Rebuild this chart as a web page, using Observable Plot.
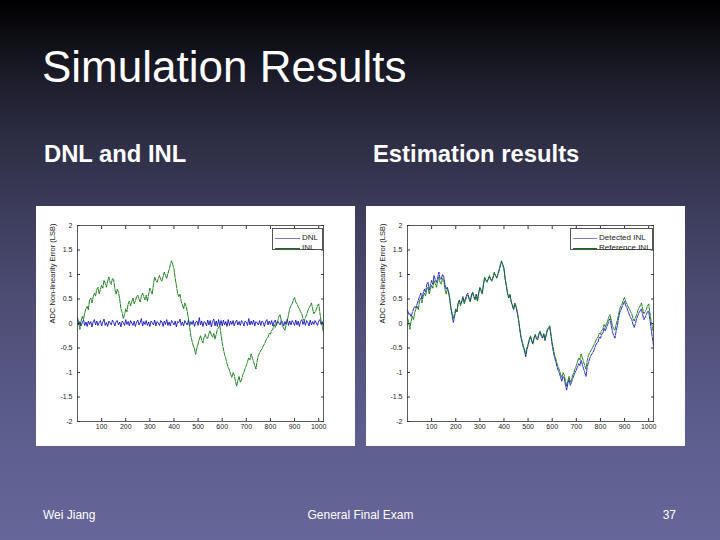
<!DOCTYPE html>
<html><head><meta charset="utf-8">
<script src="https://cdn.jsdelivr.net/npm/d3@7"></script>
<script src="https://cdn.jsdelivr.net/npm/@observablehq/plot@0.6"></script>
<style>
html,body{margin:0;padding:0}
body{width:720px;height:540px;overflow:hidden;position:relative;font-family:"Liberation Sans",Arial,sans-serif;
background:linear-gradient(to bottom,#000 0%,#181824 12%,#2c2c42 25%,#3a3a58 37%,#4c4c74 55%,#5c5c8c 78%,#66669a 100%);}
.t{position:absolute;color:#fff;white-space:nowrap;line-height:1}
.box{position:absolute;background:#fff;width:319px;height:240px;top:206px}
.box svg{display:block}
.leg{position:absolute;top:228px;height:22px;box-sizing:border-box;background:#fff;border:0.8px solid #555;font-size:8px;color:#222;line-height:1}
.row{position:absolute;left:2px;display:flex;align-items:center;white-space:nowrap}
.ln{display:inline-block;height:1px;margin-right:2px}
</style></head>
<body>
<div class="t" style="left:42px;top:45px;font-size:44px">Simulation Results</div>
<div class="t" style="left:44px;top:142.3px;font-size:23.8px;font-weight:bold">DNL and INL</div>
<div class="t" style="left:373px;top:142.3px;font-size:23.8px;font-weight:bold">Estimation results</div>
<div class="box" id="c1" style="left:36px"></div>
<div class="box" id="c2" style="left:366px"></div>
<div class="leg" style="left:272px;width:51px">
  <div class="row" style="top:5px"><span class="ln" style="width:25px;background:#7a7ac8"></span>DNL</div>
  <div class="row" style="top:15px"><span class="ln" style="width:25px;background:#1a6e1a"></span>INL</div>
</div>
<div class="leg" style="left:570px;width:83px">
  <div class="row" style="top:5px"><span class="ln" style="width:24px;background:#7a7ac8"></span>Detected INL</div>
  <div class="row" style="top:15px"><span class="ln" style="width:24px;background:#1a6e1a"></span>Reference INL</div>
</div>
<div class="t" style="left:43px;top:509px;font-size:12px">Wei Jiang</div>
<div class="t" style="left:307.5px;top:509px;font-size:12px">General Final Exam</div>
<div class="t" style="right:44px;top:509px;font-size:12px">37</div>
<script>
const codes = [0,5,10,15,20,25,30,35,40,45,50,55,60,65,70,75,80,85,90,95,
100,105,110,115,120,125,130,135,140,145,150,155,160,165,170,175,180,185,190,195,
200,205,210,215,220,225,230,235,240,245,250,255,260,265,270,275,280,285,290,295,
300,305,310,315,320,325,330,335,340,345,350,355,360,365,370,375,380,385,390,395,
400,405,410,415,420,425,430,435,440,445,450,455,460,465,470,475,480,485,490,495,
500,505,510,515,520,525,530,535,540,545,550,555,560,565,570,575,580,585,590,595,
600,605,610,615,620,625,630,635,640,645,650,655,660,665,670,675,680,685,690,695,
700,705,710,715,720,725,730,735,740,745,750,755,760,765,770,775,780,785,790,795,
800,805,810,815,820,825,830,835,840,845,850,855,860,865,870,875,880,885,890,895,
900,905,910,915,920,925,930,935,940,945,950,955,960,965,970,975,980,985,990,995,
1000,1005,1010,1015,1020];

const dnl = [0.06,-0.03,0.04,-0.05,0.02,0.07,-0.04,0.03,-0.06,0.05,
-0.02,0.04,-0.07,0.03,0.08,-0.03,0.05,-0.04,0.02,0.06,
-0.05,0.03,0.09,-0.04,0.02,-0.06,0.05,0.01,-0.03,0.07,
0.02,-0.05,0.04,0.06,-0.03,0.03,-0.07,0.05,0.02,-0.04,
0.08,-0.02,0.04,-0.05,0.06,0.01,-0.04,0.05,-0.06,0.03,
0.07,-0.03,0.02,0.10,-0.05,0.04,-0.02,0.06,-0.04,0.03,
-0.06,0.05,0.02,-0.03,0.07,-0.05,0.04,0.01,-0.04,0.06,
0.03,-0.06,0.05,-0.02,0.08,-0.04,0.03,-0.05,0.06,0.02,
-0.03,0.05,-0.07,0.04,0.02,0.09,-0.04,0.03,-0.05,0.06,
0.01,-0.03,0.07,-0.05,0.04,-0.02,0.06,-0.06,0.03,0.05,
-0.04,0.12,-0.03,0.05,-0.06,0.04,0.02,-0.05,0.07,-0.03,
0.06,-0.07,0.04,0.09,-0.05,0.05,-0.06,0.08,-0.04,0.06,
-0.05,0.07,-0.03,0.04,-0.06,0.08,-0.04,0.05,-0.02,0.06,
-0.05,0.03,0.07,-0.03,0.04,-0.04,0.06,0.02,-0.05,0.05,
0.03,-0.04,0.10,-0.03,0.05,-0.02,0.07,-0.05,0.04,0.01,
-0.03,0.06,-0.04,0.05,0.02,-0.06,0.04,0.08,-0.03,0.05,
-0.02,0.06,-0.05,0.03,0.07,-0.04,0.05,0.01,-0.03,0.06,
0.03,-0.05,0.04,-0.02,0.09,-0.04,0.05,-0.03,0.06,0.02,
-0.04,0.07,-0.03,0.05,-0.06,0.04,0.08,-0.02,0.05,-0.04,
0.06,0.02,-0.05,0.07,-0.03,0.04,-0.02,0.06,0.01,-0.04,
0.05,0.08,-0.02,0.04,-0.05];

const inl = [0.12,0.02,-0.12,0.05,0.15,0.08,0.22,0.30,0.35,0.28,
0.48,0.52,0.42,0.55,0.62,0.56,0.70,0.74,0.60,0.70,
0.78,0.72,0.88,0.82,0.74,0.86,0.95,0.84,0.80,0.92,
0.90,0.70,0.60,0.70,0.64,0.50,0.30,0.22,0.10,0.18,
0.30,0.24,0.40,0.46,0.36,0.44,0.52,0.40,0.46,0.55,
0.58,0.50,0.44,0.56,0.62,0.54,0.48,0.58,0.45,0.60,
0.72,0.66,0.60,0.80,0.95,0.88,0.84,0.92,0.98,0.90,
0.86,0.96,1.05,0.98,0.92,1.02,1.10,1.20,1.28,1.20,
1.12,0.92,0.78,0.62,0.55,0.60,0.45,0.38,0.30,0.42,
0.36,0.24,0.10,-0.08,-0.25,-0.36,-0.45,-0.52,-0.63,-0.50,
-0.42,-0.32,-0.25,-0.34,-0.40,-0.28,-0.22,-0.30,-0.30,-0.20,
-0.15,-0.24,-0.28,-0.20,-0.32,-0.22,-0.12,-0.08,-0.04,-0.22,
-0.40,-0.52,-0.64,-0.72,-0.82,-0.90,-0.95,-1.04,-1.10,-1.00,
-1.05,-1.18,-1.28,-1.16,-1.08,-1.20,-1.15,-1.05,-1.00,-0.92,
-0.86,-0.78,-0.70,-0.74,-0.62,-0.70,-0.78,-0.86,-0.93,-0.76,
-0.65,-0.60,-0.55,-0.52,-0.46,-0.42,-0.36,-0.30,-0.28,-0.20,
-0.22,-0.14,-0.12,-0.02,-0.08,0.00,0.05,0.14,0.18,0.06,
-0.05,-0.10,-0.14,-0.02,0.06,0.18,0.30,0.36,0.40,0.48,
0.53,0.44,0.40,0.34,0.30,0.24,0.20,0.10,0.05,0.12,
0.18,0.26,0.32,0.36,0.42,0.30,0.20,0.24,0.28,0.36,
0.40,0.22,0.05,-0.06,-0.18];

const detected = [0.28,0.18,0.20,0.14,0.22,0.30,0.35,0.32,0.40,0.48,
0.55,0.62,0.50,0.62,0.70,0.64,0.80,0.84,0.68,0.78,
0.88,0.80,0.98,0.90,0.84,0.94,1.05,0.92,0.90,1.00,
0.96,0.80,0.70,0.74,0.66,0.52,0.32,0.16,0.02,0.14,
0.28,0.24,0.42,0.48,0.40,0.46,0.55,0.44,0.50,0.58,
0.62,0.52,0.46,0.58,0.64,0.56,0.50,0.60,0.48,0.62,
0.74,0.68,0.62,0.80,0.92,0.88,0.86,0.90,0.96,0.90,
0.88,0.94,1.02,0.98,0.94,1.00,1.08,1.18,1.26,1.20,
1.12,0.90,0.76,0.60,0.52,0.58,0.44,0.36,0.28,0.40,
0.34,0.22,0.08,-0.10,-0.28,-0.38,-0.48,-0.56,-0.68,-0.54,
-0.45,-0.34,-0.28,-0.36,-0.42,-0.30,-0.24,-0.32,-0.33,-0.22,
-0.18,-0.26,-0.30,-0.22,-0.35,-0.24,-0.14,-0.10,-0.08,-0.26,
-0.44,-0.58,-0.70,-0.78,-0.88,-0.96,-1.02,-1.10,-1.18,-1.08,
-1.12,-1.26,-1.36,-1.22,-1.14,-1.26,-1.20,-1.12,-1.06,-1.00,
-0.95,-0.88,-0.82,-0.86,-0.75,-0.84,-0.92,-1.00,-1.08,-0.90,
-0.80,-0.72,-0.66,-0.62,-0.58,-0.52,-0.45,-0.40,-0.38,-0.28,
-0.30,-0.22,-0.20,-0.10,-0.15,-0.08,-0.02,0.06,0.10,-0.04,
-0.18,-0.24,-0.30,-0.16,-0.05,0.10,0.22,0.28,0.34,0.40,
0.45,0.36,0.32,0.24,0.18,0.12,0.08,-0.02,-0.08,0.00,
0.10,0.16,0.22,0.26,0.30,0.18,0.08,0.12,0.18,0.24,
0.25,0.08,-0.10,-0.28,-0.45];

const xTicks = [100,200,300,400,500,600,700,800,900,1000];
const xTickLabels = ["100","200","300","400","500","600","700","800","900","1000"];
const yTicks = [-2,-1.5,-1,-0.5,0,0.5,1,1.5,2];
const yTickLabels = ["-2","-1.5","-1","-0.5","0","0.5","1","1.5","2"];
const yLabel = "ADC Non-linearity Error (LSB)";

const BLUE = "#1414c4", GREEN = "#0f7310";

function rows(vals){ return codes.map((c,i)=>({x:c,y:vals[i]})); }

function chart(series){
  return Plot.plot({
    width:319, height:240, marginLeft:41, marginRight:32, marginTop:19, marginBottom:25,
    style:{background:"#fff", fontFamily:"Liberation Sans, Arial, sans-serif", fontSize:"7px", color:"#222"},
    x:{domain:[0,1020]}, y:{domain:[-2,2]},
    marks:[
      ...series.map(s=>Plot.line(rows(s.vals),{x:"x",y:"y",stroke:s.color,strokeWidth:0.9,strokeDasharray:s.dash})),
      Plot.frame({stroke:"#333",strokeWidth:0.8}),
      Plot.axisY({anchor:"left",ticks:yTicks,tickSize:-3,tickPadding:8,tickFormat:d=>yTickLabels[yTicks.indexOf(d)],label:null,stroke:"#333"}),
      Plot.axisY({anchor:"right",ticks:yTicks,tickSize:-3,tickFormat:()=>"",label:null,stroke:"#333"}),
      Plot.axisX({anchor:"bottom",ticks:xTicks,tickSize:-3,tickPadding:6,tickFormat:d=>xTickLabels[xTicks.indexOf(d)],label:null,stroke:"#333"}),
      Plot.axisX({anchor:"top",ticks:xTicks,tickSize:-3,tickFormat:()=>"",label:null,stroke:"#333"}),
      Plot.text([yLabel],{frameAnchor:"left",dx:-25,rotate:-90,text:d=>d,fontSize:7.5,fill:"#222"})
    ]
  });
}

document.getElementById("c1").appendChild(chart([
  {vals:dnl,color:BLUE,dash:null},
  {vals:inl,color:GREEN,dash:"4,1.2"}]));
document.getElementById("c2").appendChild(chart([
  {vals:detected,color:BLUE,dash:"4,1.2"},
  {vals:inl,color:GREEN,dash:"4,1.2"}]));
</script>
</body></html>
